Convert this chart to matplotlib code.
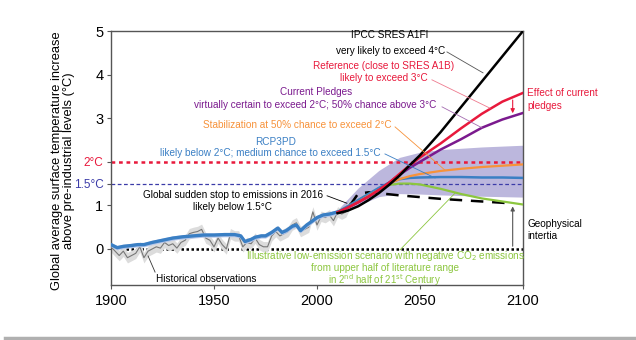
import numpy as np
import matplotlib.pyplot as plt
from matplotlib.lines import Line2D

plt.rcParams['font.family'] = ['Liberation Sans', 'DejaVu Sans']

# observed annual anomalies (every 2 years)
obs_years = [1900, 1902, 1904, 1906, 1908, 1910, 1912, 1914, 1916, 1918, 1920, 1922, 1924,
             1926, 1928, 1930, 1932, 1934, 1936, 1938, 1940, 1942, 1944, 1946, 1948, 1950,
             1952, 1954, 1956, 1958, 1960, 1962, 1964, 1966, 1968, 1970, 1972, 1974, 1976,
             1978, 1980, 1982, 1984, 1986, 1988, 1990, 1992, 1994, 1996, 1998, 2000, 2002,
             2004, 2006, 2008, 2010, 2012, 2014, 2016]
obs_temp = [0.05, -0.05, -0.15, -0.05, -0.2, -0.15, -0.1, 0.05, -0.2, -0.05, 0.0, 0.05, 0.02,
            0.15, 0.08, 0.12, 0.02, 0.15, 0.2, 0.35, 0.38, 0.4, 0.45, 0.25, 0.2, 0.05,
            0.25, 0.1, 0.0, 0.35, 0.3, 0.3, 0.05, 0.15, 0.12, 0.25, 0.1, 0.05, 0.05,
            0.3, 0.4, 0.3, 0.35, 0.4, 0.55, 0.6, 0.4, 0.45, 0.5, 0.85, 0.55, 0.75,
            0.72, 0.78, 0.65, 0.85, 0.8, 0.85, 1.05]

# smoothed historical simulation
hist_years = [1900, 1903, 1906, 1910, 1913, 1916, 1920, 1925, 1930, 1935, 1940, 1945, 1950,
              1955, 1960, 1963, 1965, 1968, 1970, 1973, 1975, 1978, 1981, 1983, 1985, 1988,
              1990, 1992, 1995, 1998, 2000, 2003, 2006, 2010]
hist_temp = [0.1, 0.03, 0.06, 0.08, 0.1, 0.1, 0.15, 0.2, 0.25, 0.28, 0.3, 0.32, 0.32,
             0.33, 0.33, 0.3, 0.17, 0.22, 0.27, 0.3, 0.3, 0.38, 0.48, 0.38, 0.42, 0.52,
             0.55, 0.42, 0.55, 0.65, 0.72, 0.78, 0.8, 0.85]

# scenario projections
proj_years = [2010, 2015, 2020, 2025, 2030, 2035, 2040, 2045, 2050, 2060, 2070, 2080, 2090, 2100]
a1fi = [0.82, 0.88, 0.98, 1.12, 1.28, 1.47, 1.68, 1.92, 2.15, 2.68, 3.26, 3.84, 4.42, 5.0]
reference = [0.84, 0.95, 1.07, 1.2, 1.35, 1.52, 1.72, 1.92, 2.1, 2.42, 2.77, 3.1, 3.38, 3.58]
pledges = [0.84, 0.95, 1.07, 1.2, 1.35, 1.52, 1.7, 1.86, 2.0, 2.28, 2.52, 2.78, 2.97, 3.12]
stabilization = [0.84, 0.95, 1.08, 1.22, 1.36, 1.5, 1.6, 1.67, 1.72, 1.79, 1.84, 1.88, 1.91, 1.94]
rcp3pd = [0.85, 0.98, 1.12, 1.26, 1.4, 1.52, 1.6, 1.63, 1.64, 1.65, 1.65, 1.64, 1.64, 1.63]
low_emission = [0.85, 0.98, 1.12, 1.26, 1.38, 1.47, 1.5, 1.5, 1.48, 1.38, 1.26, 1.16, 1.09, 1.02]

band_years = [2010, 2020, 2030, 2040, 2050, 2060, 2080, 2100]
band_low = [0.8, 1.0, 1.2, 1.27, 1.26, 1.24, 1.21, 1.19]
band_high = [0.9, 1.4, 1.8, 2.1, 2.22, 2.28, 2.34, 2.38]

stop_years = [2016, 2020, 2025, 2030, 2040, 2050, 2060, 2070, 2080, 2090, 2095]
stop_temp = [1.0, 1.27, 1.3, 1.28, 1.23, 1.19, 1.15, 1.12, 1.09, 1.06, 1.04]

RED = '#e8193c'
PURPLE = '#7b1a8e'
ORANGE = '#f7923a'
BLUE = '#3a7fc4'
GREEN = '#8cc63f'
INDIGO = '#3b3ba8'

fig = plt.figure(figsize=(6.36, 3.4), dpi=100)
ax = fig.add_axes([0.1745, 0.1618, 0.6478, 0.747])

ax.fill_between(band_years, band_low, band_high, color='#bcb7dd', lw=0, zorder=1)

# reference levels
ax.axhline(2.0, color=RED, ls=(0, (1.5, 1.5)), lw=1.8, zorder=2)
ax.axhline(1.5, color=INDIGO, ls=(0, (3, 2)), lw=0.9, zorder=2)
ax.axhline(0.0, color='black', ls=(0, (1, 1)), lw=1.8, zorder=2)

# history
obs = np.array(obs_temp)
ax.fill_between(obs_years, obs - 0.12, obs + 0.12, color='#dcdcdc', lw=0, zorder=2)
ax.plot(obs_years, obs_temp, color='#777777', lw=0.8, zorder=3)
hist = np.array(hist_temp)
ax.fill_between(hist_years, hist - 0.05, hist + 0.05, color='#b8c8ea', lw=0, zorder=3)
ax.plot(hist_years, hist_temp, color=BLUE, lw=2.4, zorder=4)

# projections
ax.plot(stop_years, stop_temp, color='black', lw=1.8, ls=(0, (5, 3.5)), zorder=5)
ax.plot(proj_years, low_emission, color=GREEN, lw=1.6, zorder=5)
ax.plot(proj_years, rcp3pd, color=BLUE, lw=1.8, zorder=6)
ax.plot(proj_years, stabilization, color=ORANGE, lw=1.6, zorder=6)
ax.plot(proj_years, pledges, color=PURPLE, lw=1.8, zorder=7)
ax.plot(proj_years, reference, color=RED, lw=1.8, zorder=7)
ax.plot(proj_years, a1fi, color='black', lw=1.8, zorder=8)

fs = 7.2
def note(x, y, s, c, ha='center', size=fs):
    ax.text(x, y, s, color=c, fontsize=size, ha=ha, va='center', zorder=10, clip_on=False)

def leader(x0, y0, x1, y1, c):
    ax.plot([x0, x1], [y0, y1], color=c, lw=0.6, zorder=9)

note(2035.4, 4.91, 'IPCC SRES A1FI', 'black')
note(2062.1, 4.54, 'very likely to exceed 4°C', 'black', ha='right')
leader(2063.1, 4.52, 2080.6, 4.04, '#555555')

note(2032.5, 4.2, 'Reference (close to SRES A1B)', RED)
note(2053.9, 3.92, 'likely to exceed 3°C', RED, ha='right')
leader(2055.8, 3.88, 2084, 3.23, '#ee7a8e')

note(1999.5, 3.6, 'Current Pledges', PURPLE)
note(1999.3, 3.30, 'virtually certain to exceed 2°C; 50% chance above 3°C', PURPLE)
leader(2060.7, 3.26, 2080.1, 2.78, '#a46bb0')

note(1990.5, 2.84, 'Stabilization at 50% chance to exceed 2°C', ORANGE)
leader(2037.9, 2.80, 2062.1, 1.81, ORANGE)

note(1980.1, 2.45, 'RCP3PD', BLUE)
note(1977.2, 2.2, 'likely below 2°C; medium chance to exceed 1.5°C', BLUE)
leader(2033, 2.18, 2057.3, 1.63, BLUE)

note(1959.5, 1.24, 'Global sudden stop to emissions in 2016', 'black')
note(1959.2, 0.96, 'likely below 1.5°C', 'black')
leader(2004.9, 1.22, 2014.5, 1.05, 'black')

note(1946.1, -0.69, 'Historical observations', 'black')
leader(1921.4, -0.53, 1918, -0.16, '#333333')

note(2033, -0.17, 'Illustrative low-emission scenario with negative CO$_2$ emissions', GREEN)
note(2033, -0.44, 'from upper half of literature range', GREEN)
note(2033, -0.72, 'in 2$^{\\mathrm{nd}}$ half of 21$^{\\mathrm{st}}$ Century', GREEN, size=7.0)
leader(2040.3, -0.02, 2067, 1.28, GREEN)

ax.text(2102, 3.43, 'Effect of current\npledges', color=RED, fontsize=fs, ha='left',
        va='center', linespacing=1.3, clip_on=False)
ax.annotate('', xy=(2095, pledges[-2] + 0.08), xytext=(2095, reference[-2] + 0.1),
            arrowprops=dict(arrowstyle='-|>', color=RED, lw=0.8, mutation_scale=6))
ax.text(2102, 0.43, 'Geophysical\nintertia', color='black', fontsize=fs, ha='left',
        va='center', linespacing=1.3, clip_on=False)
ax.annotate('', xy=(2095, stop_temp[-1]), xytext=(2095, 0.0),
            arrowprops=dict(arrowstyle='-|>', color='#555555', lw=0.8, mutation_scale=6))

ax.set_xlim(1900, 2100)
ax.set_ylim(-0.826, 5)
ax.set_xticks([1900, 1950, 2000, 2050, 2100])
ax.set_yticks([0, 1, 1.5, 2, 3, 4, 5])
ax.set_yticklabels(['0', '1', '1.5°C', '2°C', '3', '4', '5'])
ax.tick_params(axis='both', labelsize=10.5, length=3, width=0.8, color='#555555')
ax.tick_params(axis='y', pad=2.5)
ylabels = ax.get_yticklabels()
ylabels[2].set_color(INDIGO)
ylabels[2].set_fontsize(8.5)
ylabels[3].set_color(RED)
ylabels[3].set_fontsize(8.5)
for sp in ax.spines.values():
    sp.set_color('#555555')
    sp.set_linewidth(1.0)

ax.set_ylabel('Global average surface temperature increase\nabove pre-industrial levels (°C)',
              fontsize=9.3, linespacing=1.0)
ax.yaxis.set_label_coords(-0.087, 0.49)

fig.add_artist(Line2D([0.008, 1.0], [0.006, 0.006], color='#b0b0b0', lw=2.5))

fig.savefig('out.png', dpi=100)
